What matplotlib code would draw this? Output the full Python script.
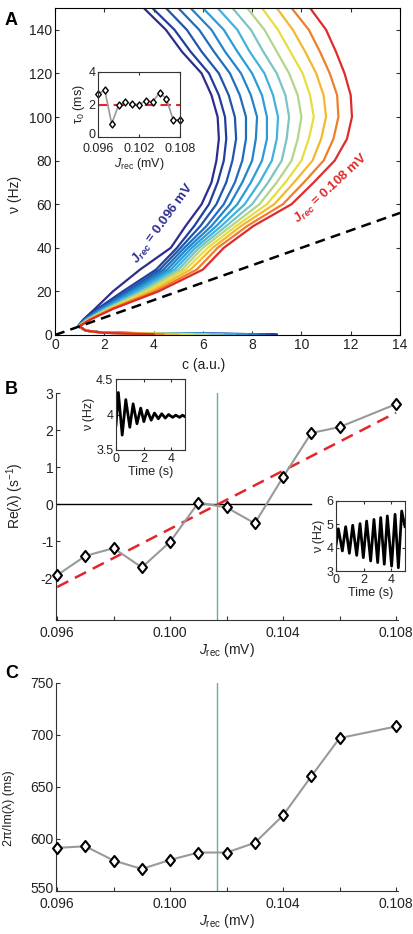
import numpy as np
import matplotlib
matplotlib.use("Agg")
import matplotlib.pyplot as plt
import matplotlib.transforms as mtransforms
from matplotlib.path import Path

plt.rcParams['font.family'] = ['Liberation Sans', 'DejaVu Sans']
plt.rcParams['mathtext.fontset'] = 'custom'
plt.rcParams['mathtext.rm'] = 'Liberation Sans'
plt.rcParams['mathtext.it'] = 'Liberation Sans:italic'
plt.rcParams['mathtext.bf'] = 'Liberation Sans:bold'
plt.rcParams['mathtext.bfit'] = 'Liberation Sans:italic:bold'
plt.rcParams['axes.unicode_minus'] = False

# ---------------- data ----------------
# panel A: nu levels (Hz) of the upper branch, c (a.u.) of each J_rec curve
J_all = [0.096, 0.097, 0.098, 0.099, 0.100, 0.101, 0.102,
         0.103, 0.104, 0.105, 0.106, 0.107, 0.108]
nu_up = [150, 140, 130, 120, 110, 100, 90, 80, 70, 60, 50, 40, 30, 20, 12, 7, 4]
c_up = [
    [3.60, 4.50, 5.15, 5.95, 6.35, 6.60, 6.65, 6.55, 6.35, 5.95, 5.30, 4.70, 3.45, 2.35, 1.62, 1.14, 0.93],
    [3.95, 4.85, 5.50, 6.25, 6.65, 6.90, 6.95, 6.85, 6.60, 6.25, 5.65, 4.95, 4.10, 2.75, 1.72, 1.16, 0.93],
    [4.50, 5.35, 5.95, 6.65, 7.05, 7.30, 7.35, 7.20, 6.95, 6.55, 5.90, 5.10, 4.25, 2.90, 1.78, 1.18, 0.94],
    [5.00, 5.85, 6.45, 7.10, 7.50, 7.75, 7.75, 7.60, 7.30, 6.85, 6.15, 5.25, 4.40, 3.00, 1.84, 1.20, 0.94],
    [5.50, 6.35, 6.90, 7.55, 7.95, 8.20, 8.15, 8.00, 7.60, 7.10, 6.35, 5.40, 4.55, 3.10, 1.90, 1.23, 0.95],
    [6.00, 6.85, 7.40, 8.00, 8.40, 8.60, 8.60, 8.40, 7.95, 7.40, 6.55, 5.55, 4.70, 3.20, 1.96, 1.26, 0.95],
    [6.60, 7.40, 7.90, 8.50, 8.85, 9.05, 9.00, 8.80, 8.30, 7.70, 6.75, 5.70, 4.85, 3.35, 2.02, 1.28, 0.96],
    [7.20, 7.95, 8.45, 9.00, 9.35, 9.50, 9.40, 9.20, 8.65, 8.00, 6.95, 5.85, 5.00, 3.50, 2.08, 1.30, 0.96],
    [7.80, 8.50, 9.00, 9.50, 9.85, 10.00, 9.85, 9.60, 9.00, 8.30, 7.15, 6.00, 5.15, 3.60, 2.14, 1.33, 0.97],
    [8.40, 9.05, 9.55, 10.05, 10.35, 10.50, 10.30, 10.00, 9.35, 8.60, 7.35, 6.20, 5.30, 3.75, 2.20, 1.36, 0.97],
    [9.00, 9.65, 10.15, 10.60, 10.90, 11.00, 10.80, 10.45, 9.70, 8.90, 7.55, 6.40, 5.50, 3.90, 2.26, 1.38, 0.98],
    [9.60, 10.30, 10.75, 11.15, 11.45, 11.50, 11.30, 10.90, 10.10, 9.25, 7.80, 6.60, 5.75, 4.05, 2.31, 1.40, 0.99],
    [10.35, 11.00, 11.40, 11.75, 12.00, 12.05, 11.85, 11.35, 10.50, 9.60, 8.05, 6.85, 6.00, 4.20, 2.36, 1.42, 1.00],
]
# lower branch (tail along nu ~ 0)
nu_low = [2.0, 1.0, 0.3]
c_low_start = [1.25, 2.0]
c_tail_end = [9.0, 8.9, 8.7, 8.5, 8.2, 7.8, 7.3, 6.8, 6.2, 5.6, 5.0, 4.4, 4.0]
ref_c = [0, 14]
ref_nu = [0, 56]

# inset A: tau0 vs J_rec
tau0 = [2.64, 2.88, 0.81, 1.95, 2.13, 2.05, 1.99, 2.23, 2.17, 2.72, 2.36, 1.06, 1.06]
tau0_ref = 2.0

# panel B / C
J_bc = [0.096, 0.097, 0.098, 0.099, 0.100, 0.101, 0.102, 0.103, 0.104, 0.105, 0.106, 0.108]
re_lam = [-1.92, -1.40, -1.19, -1.71, -1.02, 0.04, -0.09, -0.52, 0.73, 1.92, 2.08, 2.70]
fit_J = [0.096, 0.108]
fit_re = [-2.24, 2.47]
J_crit = 0.10165
period = [591.5, 593.0, 579.3, 571.2, 579.9, 587.0, 587.0, 596.3, 622.7, 660.3, 697.0, 708.2]

# inset B1: damped oscillation (extrema)
t_damp = [0, 0.17, 0.45, 0.71, 1.00, 1.24, 1.52, 1.79, 2.02, 2.26, 2.55, 2.79,
          3.07, 3.31, 3.57, 3.81, 4.10, 4.33, 4.62, 4.81, 5.0]
nu_damp = [3.85, 4.31, 3.71, 4.21, 3.82, 4.15, 3.87, 4.09, 3.90, 4.06, 3.92, 4.02,
           3.94, 4.01, 3.95, 4.00, 3.96, 3.99, 3.96, 3.99, 3.97]
# inset B2: growing oscillation
t_grow = [0, 0.17, 0.46, 0.70, 0.97, 1.21, 1.50, 1.74, 1.98, 2.22, 2.51, 2.75,
          3.02, 3.24, 3.50, 3.72, 4.03, 4.28, 4.52, 4.76, 5.0]
nu_grow = [4.10, 4.81, 3.86, 4.90, 3.76, 4.96, 3.67, 5.03, 3.57, 5.14, 3.43, 5.21,
           3.36, 5.29, 3.29, 5.36, 3.21, 5.43, 3.14, 5.57, 4.90]

# line colours of panel A (soft jet, navy -> red)
curve_colors = ['#2d2d8e', '#213e9e', '#1f56ad', '#1f6dbd', '#2285cb', '#2a9dd8',
                '#3fb3de', '#7cc4c0', '#b3d58a', '#e6de3c', '#f4b82e', '#ee7f2a', '#de2b2b']

# ---------------- style helpers ----------------
diamond = Path([(0, 1), (0.8, 0), (0, -1), (-0.8, 0), (0, 1)],
               [Path.MOVETO, Path.LINETO, Path.LINETO, Path.LINETO, Path.CLOSEPOLY])
TXT = '#222222'
GRAY = '#999999'
RED = '#e2262b'
GREEN = '#6aaf8f'
jlabel = r'$J_{\rm rec}$ (mV)'


def style(ax, fs, box=True, length=3):
    for s in ['top', 'right']:
        ax.spines[s].set_visible(box)
    for s in ax.spines.values():
        s.set_linewidth(0.8)
        s.set_color('#333333')
    ax.tick_params(direction='in', length=length, width=0.8, labelsize=fs,
                   colors='#333333', labelcolor=TXT, top=box, right=box, pad=2)
    ax.tick_params(which='minor', direction='in', length=length, width=0.8,
                   top=box, right=box, colors='#333333')


def lift_first_ylabel(ax, pts):
    # nudge the lowest y tick label up so it clears the x tick labels
    lbl = ax.yaxis.get_major_ticks()[0].label1
    lbl.set_transform(lbl.get_transform() +
                      mtransforms.ScaledTranslation(0, pts / 72, fig.dpi_scale_trans))


fig = plt.figure(figsize=(4.13, 9.34), dpi=100)
W, H = 413.0, 934.0


def px_axes(x0, y0, x1, y1):
    return fig.add_axes([x0 / W, 1 - y1 / H, (x1 - x0) / W, (y1 - y0) / H])


# ---------------- panel A ----------------
axA = px_axes(55, 8, 400, 335)
for k in range(len(J_all)):
    cc = c_up[k] + c_low_start + [c_tail_end[k]]
    nn = nu_up + nu_low
    axA.plot(cc, nn, color=curve_colors[k], lw=1.6, solid_joinstyle='round')
axA.plot(ref_c, ref_nu, '--', color='k', lw=1.8, dashes=(4, 2.5))
axA.set_xlim(0, 14)
axA.set_ylim(0, 150)
axA.set_xticks(np.arange(0, 15, 2))
axA.set_yticks(np.arange(0, 141, 20))
style(axA, 10)
for s in axA.spines.values():
    s.set_color('k')
axA.set_xlabel('c (a.u.)', fontsize=10, color=TXT, labelpad=1)
axA.xaxis.set_label_coords(0.43, -0.07)
axA.set_ylabel('ν (Hz)', fontsize=10, color=TXT)
axA.yaxis.set_label_coords(-0.095, 0.43)
axA.text(4.4, 51, r'$\mathbfit{J_{rec}}$ = 0.096 mV', color=curve_colors[0], fontsize=9.5,
         fontweight='bold', rotation=54, ha='center', va='center', rotation_mode='anchor')
axA.text(11.2, 67, r'$\mathbfit{J_{rec}}$ = 0.108 mV', color=curve_colors[-1], fontsize=9.5,
         fontweight='bold', rotation=43, ha='center', va='center', rotation_mode='anchor')
fig.text(5 / W, 1 - 25 / H, 'A', fontsize=13, fontweight='bold')

# inset A
axAi = px_axes(98, 72, 180, 137)
axAi.axhline(tau0_ref, color=RED, lw=1.5, ls=(0, (5, 2.5)))
axAi.plot(J_all, tau0, color=GRAY, lw=1.2, marker=diamond, ms=5, mfc='white',
          mec='k', mew=1.0, clip_on=False)
axAi.set_xlim(0.096, 0.108)
axAi.set_ylim(0, 4)
axAi.set_xticks([0.096, 0.102, 0.108])
axAi.set_xticklabels(['0.096', '0.102', '0.108'])
axAi.set_yticks([0, 2, 4])
style(axAi, 9, length=2.5)
axAi.tick_params(axis='x', pad=4)
lift_first_ylabel(axAi, 2.5)
axAi.set_xlabel(jlabel, fontsize=9, color=TXT, labelpad=1)
axAi.set_ylabel('τ${}_0$ (ms)', fontsize=9, color=TXT, labelpad=1)

# ---------------- panel B ----------------
xl = (0.09596, 0.10807)
axB = px_axes(56, 393, 398, 620)
axB.plot([xl[0], 0.105], [0, 0], color='k', lw=1.0)
axB.axvline(J_crit, color=GREEN, lw=1.0)
axB.plot(fit_J, fit_re, color=RED, lw=1.8, ls=(0, (5, 3)))
axB.plot(J_bc, re_lam, color=GRAY, lw=1.5, marker=diamond, ms=8, mfc='white',
         mec='k', mew=1.5, clip_on=False, zorder=5)
axB.set_xlim(*xl)
axB.set_ylim(-3.13, 3)
axB.set_yticks([-2, -1, 0, 1, 2, 3])
axB.set_xticks([0.096, 0.100, 0.104, 0.108])
axB.set_xticklabels(['0.096', '0.100', '0.104', '0.108'])
axB.set_xticks([0.098, 0.102, 0.106], minor=True)
style(axB, 10, box=False)
axB.tick_params(axis='x', pad=4)
axB.set_xlabel(jlabel, fontsize=10, color=TXT, labelpad=1)
axB.set_ylabel('Re(λ) (s$^{-1}$)', fontsize=10, color=TXT)
axB.yaxis.set_label_coords(-0.088, 0.55)
fig.text(5 / W, 1 - 394 / H, 'B', fontsize=13, fontweight='bold')

# inset B1
axB1 = px_axes(116, 379, 185, 450)
axB1.plot(t_damp, nu_damp, color='k', lw=2.0)
axB1.set_xlim(0, 5)
axB1.set_ylim(3.5, 4.5)
axB1.set_xticks([0, 2, 4])
axB1.set_yticks([3.5, 4, 4.5])
axB1.set_yticklabels(['3.5', '4', '4.5'])
style(axB1, 9, length=2.5)
axB1.set_xlabel('Time (s)', fontsize=9, color=TXT, labelpad=1)
axB1.set_ylabel('ν (Hz)', fontsize=9, color=TXT, labelpad=1)

# inset B2
axB2 = px_axes(336, 501, 405, 571)
axB2.plot(t_grow, nu_grow, color='k', lw=2.0)
axB2.set_xlim(0, 5)
axB2.set_ylim(3, 6)
axB2.set_xticks([0, 2, 4])
axB2.set_yticks([3, 4, 5, 6])
style(axB2, 9, length=2.5)
axB2.set_xlabel('Time (s)', fontsize=9, color=TXT, labelpad=1)
axB2.set_ylabel('ν (Hz)', fontsize=9, color=TXT, labelpad=1)

# ---------------- panel C ----------------
axC = px_axes(56, 683, 398, 891)
axC.axvline(J_crit, color=GREEN, lw=1.0)
axC.plot(J_bc, period, color=GRAY, lw=1.5, marker=diamond, ms=8, mfc='white',
         mec='k', mew=1.5, clip_on=False, zorder=5)
axC.set_xlim(*xl)
axC.set_ylim(550, 750)
axC.set_yticks([550, 600, 650, 700, 750])
axC.set_xticks([0.096, 0.100, 0.104, 0.108])
axC.set_xticklabels(['0.096', '0.100', '0.104', '0.108'])
axC.set_xticks([0.098, 0.102, 0.106], minor=True)
style(axC, 10, box=False)
axC.tick_params(axis='x', pad=4)
lift_first_ylabel(axC, 2.5)
axC.set_xlabel(jlabel, fontsize=10, color=TXT, labelpad=1)
axC.set_ylabel('2π/Im(λ) (ms)', fontsize=9, color=TXT)
axC.yaxis.set_label_coords(-0.12, 0.40)
fig.text(5 / W, 1 - 678 / H, 'C', fontsize=13, fontweight='bold')

fig.savefig('out.png', dpi=100, facecolor='white')
